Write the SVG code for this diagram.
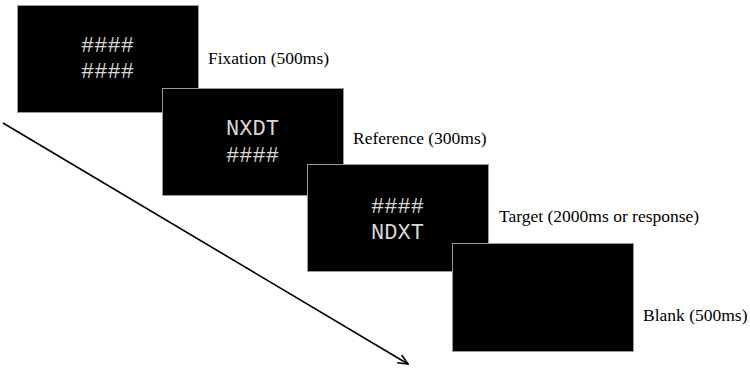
<svg xmlns="http://www.w3.org/2000/svg" width="750" height="369" viewBox="0 0 750 369">
  <style>
    .screen { fill: #000; stroke: #9a9a9a; stroke-width: 1; }
    .stim { font-family: "Liberation Mono", "Courier New", monospace; font-size: 22px; fill: #d8d8d8; text-anchor: middle; }
    .label { font-family: "Liberation Serif", "Times New Roman", serif; font-size: 17.5px; fill: #000; }
    .axis { stroke: #000; stroke-width: 1.6; fill: none; }
  </style>
  <defs>
    <marker id="arrowhead" viewBox="0 0 12 12" refX="11" refY="6" markerWidth="12" markerHeight="12" orient="auto" markerUnits="userSpaceOnUse">
      <path d="M1,1.5 L11,6 L1,10.5" fill="none" stroke="#000" stroke-width="1.6"/>
    </marker>
  </defs>
  <rect width="750" height="369" fill="#fff"/>

  <!-- time axis -->
  <g id="connectors">
    <line class="axis" x1="3" y1="123" x2="408" y2="364" marker-end="url(#arrowhead)"/>
  </g>

  <g id="fixation">
    <rect class="screen" x="17.5" y="5.5" width="181" height="107"/>
    <text class="stim" x="107.5" y="52">####</text>
    <text class="stim" x="107.5" y="78">####</text>
    <text class="label" x="208" y="64">Fixation (500ms)</text>
  </g>

  <g id="reference">
    <rect class="screen" x="162.5" y="88.5" width="181" height="107"/>
    <text class="stim" x="252.5" y="135">NXDT</text>
    <text class="stim" x="252.5" y="162">####</text>
    <text class="label" x="353" y="144">Reference (300ms)</text>
  </g>

  <g id="target">
    <rect class="screen" x="307.5" y="164.5" width="181" height="107"/>
    <text class="stim" x="397.5" y="213">####</text>
    <text class="stim" x="397.5" y="239">NDXT</text>
    <text class="label" x="499" y="222">Target (2000ms or response)</text>
  </g>

  <g id="blank">
    <rect class="screen" x="452.5" y="243.5" width="181" height="108"/>
    <text class="label" x="643" y="321">Blank (500ms)</text>
  </g>
</svg>
